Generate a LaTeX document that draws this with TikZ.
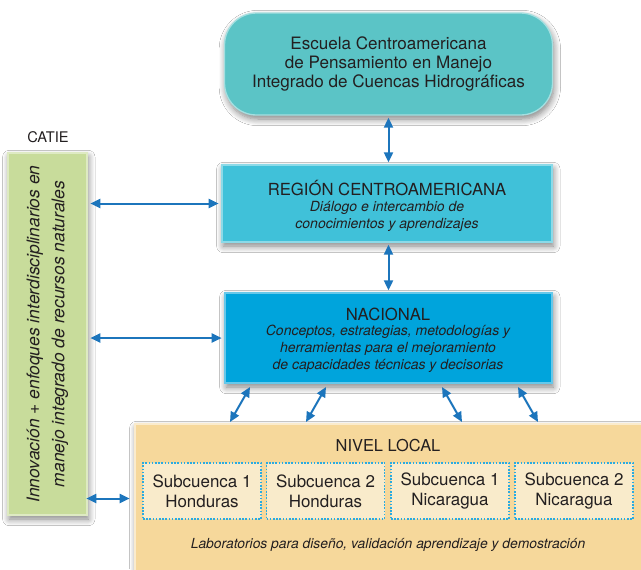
\documentclass[tikz,border=0pt]{standalone}
\usepackage{fontspec}
\setmainfont{TeX Gyre Heros}
\usetikzlibrary{arrows.meta,shadows.blur,calc}
\definecolor{topc}{HTML}{5BC4C6}
\definecolor{regc}{HTML}{40C1D9}
\definecolor{nacc}{HTML}{00A4DC}
\definecolor{grnc}{HTML}{C8DC9B}
\definecolor{locc}{HTML}{F6D89B}
\definecolor{subc}{HTML}{F9EBCB}
\definecolor{dotc}{HTML}{29ABE2}
\definecolor{arrc}{HTML}{1C75BC}
\definecolor{txtc}{HTML}{231F20}
\begin{document}
\begin{tikzpicture}[x=0.75pt,y=-0.75pt,
  every node/.style={text=txtc},
  shad/.style={blur shadow={shadow xshift=1pt,shadow yshift=-3pt,shadow blur radius=5pt,shadow blur steps=8,shadow opacity=50}},
  boxst/.style={shad,inner sep=0pt,align=center,line width=1pt},
  subbox/.style={draw=dotc,fill=subc,line width=0.9pt,dash pattern=on 1.2pt off 1.2pt,
     minimum width=88.5pt,minimum height=42pt,inner sep=0pt,align=center,
     font=\fontsize{12.7}{15}\selectfont},
  dbl/.style={{Triangle[length=7.5pt,width=6.75pt]}-{Triangle[length=7.5pt,width=6.75pt]},line width=1.5pt,draw=arrc},
  tit/.style={font=\fontsize{12.5}{15}\selectfont},
  sub/.style={font=\fontsize{10.5}{12.75}\selectfont\itshape}
]
\clip (0,0) rectangle (641,569);
\fill[white] (0,0) rectangle (641,569);

% top box
\node[boxst,fill=topc,draw=topc!55!white,rounded corners=24pt,
  minimum width=246pt,minimum height=76.5pt,font=\fontsize{12.8}{14.6}\selectfont]
  (top) at (388.5,64) {Escuela Centroamericana\\de Pensamiento en Manejo\\Integrado de Cuencas Hidrográficas};

% region
\node[boxst,fill=regc,draw=regc!60!white,minimum width=247.5pt,minimum height=57.75pt]
  (region) at (387,203.5) {};
\node[tit] (regt) at (387,188) {REGIÓN CENTROAMERICANA};
\node[sub,align=center] (regs) at (387,216) {Diálogo e intercambio de\\conocimientos y aprendizajes};

% nacional
\node[boxst,fill=nacc,draw=nacc!60!white,minimum width=245.25pt,minimum height=67.5pt]
  (nac) at (388.5,338) {};
\node[tit] (nact) at (388,314) {NACIONAL};
\node[sub,align=center] (nacs) at (388,349) {Conceptos, estrategias, metodologías y\\herramientas para el mejoramiento\\de capacidades técnicas y decisorias};

% green
\node (catie) at (48,137) {\fontsize{11}{13}\selectfont CATIE};
\node[boxst,fill=grnc,draw=grnc!60!white,minimum width=59.25pt,minimum height=271.5pt]
  (green) at (47.5,334) {};
\node[rotate=90,align=center,font=\fontsize{13.1}{18.75}\selectfont\itshape] (grt) at (green.center)
  {Innovación + enfoques interdisciplinarios en\\manejo integrado de recursos naturales};

% local
\node[boxst,fill=locc,draw=locc!50!white,minimum width=382.5pt,minimum height=111.75pt]
  (local) at (390,498.5) {};
\node[font=\fontsize{12.3}{15}\selectfont] (loct) at (388,446) {NIVEL LOCAL};
\node[subbox] (s1) at (202,491) {Subcuenca 1\\Honduras};
\node[subbox] (s2) at (325.5,491) {Subcuenca 2\\Honduras};
\node[subbox] (s3) at (450,491) {Subcuenca 1\\Nicaragua};
\node[subbox] (s4) at (574,491) {Subcuenca 2\\Nicaragua};
\node[font=\fontsize{10.4}{12}\selectfont\itshape] (lab) at (388,545)
  {Laboratorios para diseño, validación aprendizaje y demostración};

% arrows
\draw[dbl,shorten <=1.5pt,shorten >=1.5pt] (top.south) -- (top.south |- region.north);
\draw[dbl,shorten <=1.5pt,shorten >=1.5pt] (region.south -| top.south) -- (top.south |- nac.north);
\draw[dbl,shorten <=2pt,shorten >=2pt] (green.east |- region.west) -- (region.west);
\draw[dbl,shorten <=2pt,shorten >=2pt] (green.east |- nac.west) -- (nac.west);
\draw[dbl,shorten <=-1pt,shorten >=3.5pt] (green.east |- local.west) -- (local.west);

\coordinate (a1) at (250,387); \coordinate (b1) at (230,422);
\coordinate (a2) at (326,387); \coordinate (b2) at (306,422);
\coordinate (a3) at (442,387); \coordinate (b3) at (462,422);
\coordinate (a4) at (518,387); \coordinate (b4) at (538,422);
\foreach \i in {1,2,3,4} \draw[dbl] (a\i) -- (b\i);
\end{tikzpicture}
\end{document}
